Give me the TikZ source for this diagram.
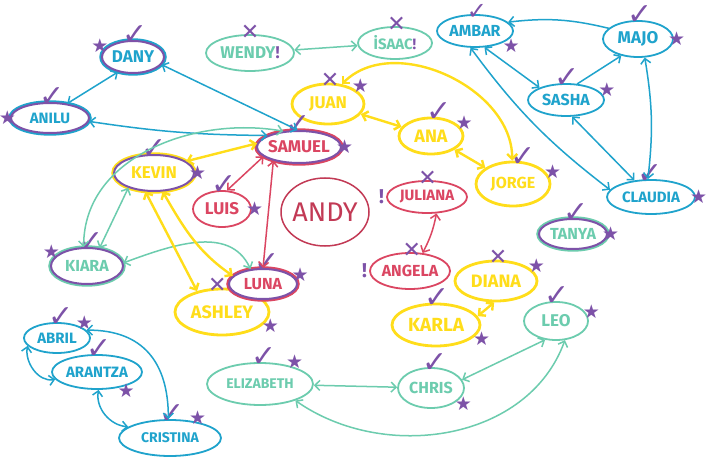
\documentclass[tikz,border=0pt]{standalone}
\usepackage{fontspec}
\setmainfont{Fira Sans}
\newfontfamily\symfont{DejaVu Sans}
\usepackage{xcolor}
\definecolor{vizBlue}{HTML}{1FA3CC}
\definecolor{vizTeal}{HTML}{6CCCAE}
\definecolor{vizYellow}{HTML}{FFDD1A}
\definecolor{vizRed}{HTML}{DB4662}
\definecolor{vizAndy}{HTML}{C23A55}
\definecolor{vizPurple}{HTML}{7D52A8}
\usetikzlibrary{shapes.geometric, arrows.meta}
\newcommand{\nmfont}[1]{\bfseries\fontsize{#1}{#1}\selectfont}
\newcommand{\chkglyph}{✓}
\newcommand{\crsglyph}{✕}
\newcommand{\stlglyph}{★}
\tikzset{
  person/.style={ellipse, draw=#1, text=#1, fill=white, line width=1.8pt, inner xsep=-4pt, inner ysep=0pt, font=\nmfont{16}},
  ringed/.style={person=#1, draw=vizPurple, line width=2pt, preaction={draw=#1, line width=5.4pt}},
  chkmk/.style={text=vizPurple, font=\symfont\fontsize{30}{30}\selectfont, inner sep=0pt, anchor=south, label distance=-5pt},
  crsmk/.style={text=vizPurple, font=\symfont\fontsize{22}{22}\selectfont, inner sep=0pt, anchor=center, label distance=2pt},
  stlmk/.style={text=vizPurple, font=\symfont\fontsize{19}{19}\selectfont, inner sep=0pt, label distance=-6pt},
  bngmk/.style={text=vizPurple, font=\nmfont{20}, inner sep=0pt, label distance=2pt},
  chk/.style={label={[chkmk]#1:\chkglyph}},
  crs/.style={label={[crsmk]#1:\crsglyph}},
  stl/.style={label={[stlmk]#1:\stlglyph}},
  bng/.style={label={[bngmk]#1:!}},
  link/.style={<->, draw=#1, line width=1.5pt, line cap=round},
  >={Straight Barb[length=5pt, width=10pt]}
}

\begin{document}
\begin{tikzpicture}[x=1pt, y=1pt]
  \fill[white] (0,0) rectangle (708,458);
  \useasboundingbox (0,0) rectangle (708,458);
  % blue group
  \node[ringed=vizBlue, font=\nmfont{17}, minimum width=62, minimum height=32, chk=80, stl=170] (dany) at (133,401) {DANY};
  \node[ringed=vizBlue, font=\nmfont{15}, minimum width=78, minimum height=30, chk=80, stl=180] (anilu) at (50,340) {ANILU};
  \node[person=vizBlue, minimum width=76, minimum height=32, label={[chkmk, font=\symfont\fontsize{24}{24}\selectfont, label distance=-6pt]80:\chkglyph}, stl=-15] (ambar) at (475,427) {AMBAR};
  \node[person=vizBlue, font=\nmfont{17}, minimum width=70, minimum height=36, chk=80, stl=0] (majo) at (638,419) {MAJO};
  \node[person=vizBlue, minimum width=76, minimum height=32, chk=85, stl=5] (sasha) at (566,358) {SASHA};
  \node[person=vizBlue, font=\nmfont{15}, minimum width=88, minimum height=34, chk=95, stl=0] (claudia) at (651,261) {CLAUDIA};
  \node[person=vizBlue, font=\nmfont{15}, minimum width=66, minimum height=30, chk=70, stl=25] (abril) at (57,120) {ABRIL};
  \node[person=vizBlue, font=\nmfont{15}, minimum width=90, minimum height=34, chk=80, stl=-30] (arantza) at (97,86) {ARANTZA};
  \node[person=vizBlue, font=\nmfont{14}, minimum width=102, minimum height=36, chk=80, stl=35] (cristina) at (170,20) {CRISTINA};
  % teal group
  \node[person=vizTeal, font=\nmfont{17}, minimum width=88, minimum height=36, crs=90] (wendy) at (250,405) {WENDY{\color{vizPurple}!}};
  \node[person=vizTeal, font=\nmfont{15}, minimum width=74, minimum height=32, crs=85] (isaac) at (395,415) {İSAAC{\color{vizPurple}!}};
  \node[ringed=vizTeal, minimum width=68, minimum height=30, chk=75, stl=0] (tanya) at (573,224) {TANYA};
  \node[ringed=vizTeal, minimum width=72, minimum height=36, chk=75, stl=165] (kiara) at (87,192) {KIARA};
  \node[person=vizTeal, font=\nmfont{17}, minimum width=64, minimum height=38, chk=85, stl=5] (leo) at (556,137) {LEO};
  \node[person=vizTeal, minimum width=66, minimum height=40, chk=75, stl=-20] (chris) at (431,70) {CHRIS};
  \node[person=vizTeal, font=\nmfont{14}, minimum width=106, minimum height=42, chk=75, stl=30] (elizabeth) at (260,74) {ELIZABETH};
  % yellow group
  \node[person=vizYellow, line width=2.8pt, font=\nmfont{17}, minimum width=72, minimum height=40, crs=85, stl=25] (juan) at (328,354) {JUAN};
  \node[person=vizYellow, line width=2.8pt, font=\nmfont{18}, minimum width=64, minimum height=36, chk=60, stl=15] (ana) at (431,322) {ANA};
  \node[person=vizYellow, line width=2.8pt, minimum width=74, minimum height=44, chk=60, stl=10] (jorge) at (513,274) {JORGE};
  \node[ringed=vizYellow, font=\nmfont{17}, minimum width=80, minimum height=36, chk=90, stl=0] (kevin) at (154,285) {KEVIN};
  \node[person=vizYellow, line width=2.8pt, font=\nmfont{18}, minimum width=94, minimum height=46, crs=100, stl=-10] (ashley) at (222,146) {ASHLEY};
  \node[person=vizYellow, line width=2.8pt, font=\nmfont{18}, minimum width=82, minimum height=40, crs=85, stl=15] (diana) at (496,177) {DIANA};
  \node[person=vizYellow, line width=2.8pt, font=\nmfont{19}, minimum width=88, minimum height=42, chk=85, stl=-10] (karla) at (436,133) {KARLA};
  % red group
  \node[ringed=vizRed, font=\nmfont{17}, minimum width=84, minimum height=32, chk=95, stl=0] (samuel) at (299,311) {SAMUEL};
  \node[person=vizRed, font=\nmfont{17}, minimum width=58, minimum height=36, chk=80, stl=0] (luis) at (222,249) {LUIS};
  \node[ringed=vizRed, minimum width=68, minimum height=30, chk=70, stl=5] (luna) at (263,174) {LUNA};
  \node[person=vizRed, font=\nmfont{15}, minimum width=80, minimum height=32, crs=88, bng=180] (juliana) at (427,261) {JULIANA};
  \node[person=vizRed, minimum width=80, minimum height=36, crs=85, bng=180] (angela) at (410,187) {ANGELA};
  \node[person=vizAndy, line width=1.5pt, font=\fontsize{27}{27}\selectfont, minimum width=88, minimum height=68] (andy) at (325,246) {ANDY};
  % blue links
  \draw[link=vizBlue] (dany.225) -- (anilu.40);
  \draw[link=vizBlue] (dany.-15) -- (samuel.95);
  \draw[link=vizBlue] (anilu.-5) to[bend right=4] (samuel.160);
  \draw[link=vizBlue] (ambar.-60) -- (sasha.155);
  \draw[link=vizBlue] (ambar.-105) to[bend right=8] (claudia.170);
  \draw[link=vizBlue, ->] (majo.160) to[bend right=10] (ambar.15);
  \draw[link=vizBlue, ->] (sasha.55) -- (majo.225);
  \draw[link=vizBlue] (sasha.-70) -- (claudia.135);
  \draw[link=vizBlue] (majo.-70) to[bend left=8] (claudia.100);
  \draw[link=vizBlue] (abril.15) to[out=0, in=90, looseness=1.2] (cristina.95);
  \draw[link=vizBlue] (abril.195) to[out=260, in=190] (arantza.190);
  \draw[link=vizBlue] (arantza.-85) to[out=-100, in=175] (cristina.165);
  % teal links
  \draw[link=vizTeal] (wendy) -- (isaac);
  \draw[link=vizTeal] (samuel.135) to[out=170, in=90] (kiara.100);
  \draw[link=vizTeal] (kiara.55) -- (kevin.210);
  \draw[link=vizTeal] (kiara.5) to[out=20, in=115] (luna.130);
  \draw[link=vizTeal] (elizabeth) -- (chris);
  \draw[link=vizTeal] (chris.15) -- (leo.240);
  \draw[link=vizTeal] (elizabeth.-25) to[out=-35, in=-110] (leo.-65);
  % yellow links
  \draw[link=vizYellow, line width=2.4pt] (kevin.20) -- (samuel.175);
  \draw[link=vizYellow, line width=2.4pt] (kevin.245) -- (ashley.140);
  \draw[link=vizYellow, line width=2.4pt] (kevin.-65) to[out=-60, in=145] (luna.165);
  \draw[link=vizYellow, line width=2.4pt] (juan) -- (ana);
  \draw[link=vizYellow, line width=2.4pt] (ana) -- (jorge);
  \draw[link=vizYellow, line width=2.4pt] (juan.55) to[out=45, in=90] (jorge.92);
  \draw[link=vizYellow, line width=2.4pt] (karla.12) -- (diana.-95);
  % red links
  \draw[link=vizRed] (samuel.195) -- (luis.75);
  \draw[link=vizRed] (samuel.208) -- (luna.90);
  \draw[link=vizRed] (juliana.-60) to[bend left=8] (angela.55);
\end{tikzpicture}
\end{document}
